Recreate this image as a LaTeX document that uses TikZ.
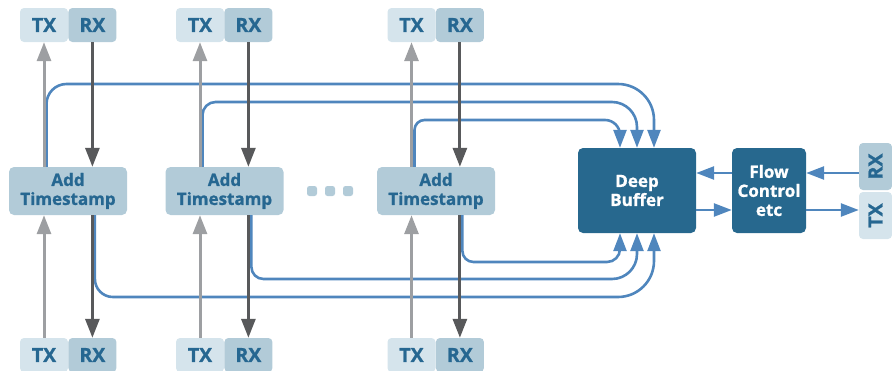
\documentclass[tikz,border=0pt]{standalone}
\usepackage{fontspec}
\setmainfont{Open Sans}
\usetikzlibrary{arrows.meta,positioning,calc}

\definecolor{txfill}{HTML}{D5E4EC}
\definecolor{rxfill}{HTML}{B2CBD8}
\definecolor{txtblue}{HTML}{266791}
\definecolor{bufblue}{HTML}{27688E}
\definecolor{feedblue}{HTML}{4F86BD}
\definecolor{upgray}{HTML}{9D9FA2}
\definecolor{downgray}{HTML}{58595B}

\newcommand{\heavy}{\bfseries\addfontfeatures{FakeBold=1}}

\tikzset{
  port/.style={rounded corners=4pt,minimum width=48pt,minimum height=34pt,inner sep=0pt,
    text=txtblue,font=\heavy\fontsize{19.5}{19}\selectfont},
  txport/.style={port,fill=txfill},
  rxport/.style={port,fill=rxfill},
  stamp/.style={rounded corners=5pt,fill=rxfill,minimum width=118pt,minimum height=48pt,inner sep=0pt,
    align=center,text=txtblue,font=\heavy\fontsize{17}{19}\selectfont},
  dark/.style={rounded corners=5pt,fill=bufblue,minimum height=85pt,inner sep=0pt,
    align=center,text=white,font=\heavy\fontsize{17}{19}\selectfont},
  dot/.style={rounded corners=2.5pt,fill=rxfill,minimum size=10pt,inner sep=0pt},
  upline/.style={draw=upgray,line width=3pt,-{Triangle[width=14pt,length=19pt]}},
  downline/.style={draw=downgray,line width=3pt,-{Triangle[width=14pt,length=19pt]}},
  feed/.style={draw=feedblue,line width=2.6pt,-{Triangle[width=13pt,length=18pt]}}
}

\begin{document}
\begin{tikzpicture}[x=1pt,y=-1pt]
  \useasboundingbox (0,0) rectangle (892,370);
  % ports at the top
  \node[txport] (txa) at (44,25) {TX};
  \node[rxport,right=0pt of txa] (rxa) {RX};
  \node[txport] (txb) at (200,25) {TX};
  \node[rxport,right=0pt of txb] (rxb) {RX};
  \node[txport] (txc) at (411.5,25) {TX};
  \node[rxport,right=0pt of txc] (rxc) {RX};
  % ports at the bottom
  \node[txport] (txd) at (44,355) {TX};
  \node[rxport,right=0pt of txd] (rxd) {RX};
  \node[txport] (txe) at (200,355) {TX};
  \node[rxport,right=0pt of txe] (rxe) {RX};
  \node[txport] (txf) at (411.5,355) {TX};
  \node[rxport,right=0pt of txf] (rxf) {RX};
  % timestamp blocks
  \node[stamp] (stampa) at (68,191) {Add\\Timestamp};
  \node[stamp] (stampb) at (224.5,191) {Add\\Timestamp};
  \node[stamp] (stampc) at (436,191) {Add\\Timestamp};
  \node[dot] (dota) at (312,191) {};
  \node[dot] (dotb) at (330,191) {};
  \node[dot] (dotc) at (348,191) {};
  % buffer and flow control
  \node[dark,minimum width=118pt] (buf) at (637,190.5) {Deep\\Buffer};
  \node[dark,minimum width=74pt] (flow) at (769,190.5) {Flow\\Control\\etc};
  \node[rxport,rotate=90,minimum width=47pt,minimum height=33pt] (rxr) at (875.5,166.5) {RX};
  \node[txport,rotate=90,minimum width=47pt,minimum height=33pt] (txr) at (875.5,215.5) {TX};

  \coordinate (railA) at (0,84);  \coordinate (railB) at (0,102); \coordinate (railC) at (0,120);
  \coordinate (railD) at (0,297); \coordinate (railE) at (0,279); \coordinate (railF) at (0,262);
  \coordinate (outA) at ($(txa |- stampa.north)+(2.5,0)$);
  \coordinate (outB) at ($(txb |- stampb.north)+(2.5,0)$);
  \coordinate (outC) at ($(txc |- stampc.north)+(3,0)$);
  \coordinate (outD) at ($(rxd |- stampa.south)+(2.5,0)$);
  \coordinate (outE) at ($(rxe |- stampb.south)+(3,0)$);
  \coordinate (outF) at ($(rxf |- stampc.south)+(2.5,0)$);
  \coordinate (inA) at ([xshift=17pt]buf.north);  \coordinate (inB) at (buf.north);
  \coordinate (inC) at ([xshift=-17pt]buf.north);
  \coordinate (inD) at ([xshift=17pt]buf.south);  \coordinate (inE) at (buf.south);
  \coordinate (inF) at ([xshift=-17pt]buf.south);
  \coordinate (fin) at ([yshift=17.5pt]flow.east);
  \coordinate (fback) at ([yshift=17.5pt]flow.west);
  \coordinate (fout) at ([yshift=-19.5pt]flow.east);
  \coordinate (fto) at ([yshift=-19.5pt]flow.west);

  % feeds into the buffer
  \draw[feed] (outA) [rounded corners=20pt] -- (outA |- railA) [rounded corners=36pt] -- (inA |- railA) -- (inA);
  \draw[feed] (outB) [rounded corners=13pt] -- (outB |- railB) [rounded corners=25pt] -- (inB |- railB) -- (inB);
  \draw[feed] (outC) [rounded corners=10pt] -- (outC |- railC) [rounded corners=15pt] -- (inC |- railC) -- (inC);
  \draw[feed] (outD) [rounded corners=18pt] -- (outD |- railD) [rounded corners=36pt] -- (inD |- railD) -- (inD);
  \draw[feed] (outE) [rounded corners=12pt] -- (outE |- railE) [rounded corners=25pt] -- (inE |- railE) -- (inE);
  \draw[feed] (outF) [rounded corners=11pt] -- (outF |- railF) [rounded corners=13pt] -- (inF |- railF) -- (inF);

  % tx and rx lines
  \draw[upline] (txa |- stampa.north) -- (txa.south);
  \draw[upline] (txb |- stampb.north) -- (txb.south);
  \draw[upline] (txc |- stampc.north) -- (txc.south);
  \draw[downline] (rxa.south) -- (rxa |- stampa.north);
  \draw[downline] (rxb.south) -- (rxb |- stampb.north);
  \draw[downline] (rxc.south) -- (rxc |- stampc.north);
  \draw[upline] (txd.north) -- (txd |- stampa.south);
  \draw[upline] (txe.north) -- (txe |- stampb.south);
  \draw[upline] (txf.north) -- (txf |- stampc.south);
  \draw[downline] (rxd |- stampa.south) -- (rxd.north);
  \draw[downline] (rxe |- stampb.south) -- (rxe.north);
  \draw[downline] (rxf |- stampc.south) -- (rxf.north);

  % flow control links
  \draw[feed] (fback) -- (fback -| buf.east);
  \draw[feed] (fto -| buf.east) -- (fto);
  \draw[feed] (rxr.north |- fin) -- (fin);
  \draw[feed] (fout) -- (txr.north |- fout);
\end{tikzpicture}
\end{document}
